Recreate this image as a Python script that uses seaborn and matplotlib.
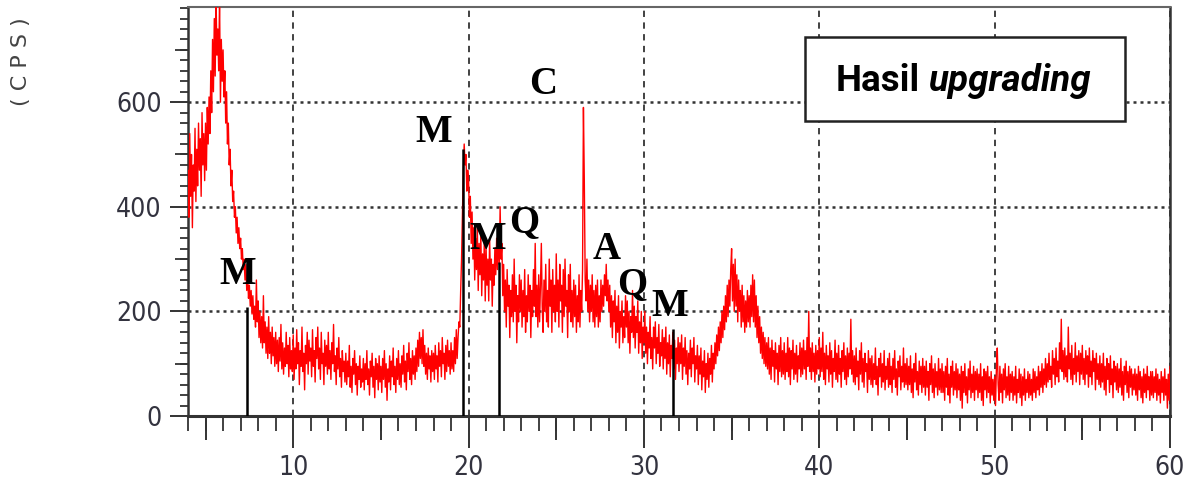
import numpy as np
import pandas as pd
import matplotlib
matplotlib.use("Agg")
import matplotlib.pyplot as plt
from matplotlib import font_manager as fm
from matplotlib.ticker import MultipleLocator
from matplotlib.patches import Rectangle
import seaborn as sns

# ---------------- data ----------------
# diffractogram sampled every 0.05 deg 2-theta, one row per degree
two_theta_start = 4.0
two_theta_step = 0.05

counts_04_10 = [
    470, 380, 540, 420, 500, 360, 480, 430, 550, 410, 510, 440, 560, 470, 530, 420, 580, 480, 540, 450,
    560, 470, 590, 520, 610, 540, 660, 580, 720, 620, 760, 650, 800, 690, 740, 660, 800, 600, 720, 640,
    700, 610, 660, 560, 620, 520, 560, 480, 510, 440, 470, 410, 430, 380, 400, 350, 380, 330, 360, 320,
    340, 300, 320, 280, 300, 260, 290, 240, 270, 225, 250, 210, 240, 195, 230, 185, 210, 170, 260, 180,
    220, 150, 200, 140, 190, 130, 230, 140, 180, 120, 170, 110, 190, 120, 160, 100, 170, 115, 150, 95,
    160, 100, 145, 85, 150, 105, 175, 90, 140, 80, 130, 95, 160, 100, 135, 75, 150, 90, 125, 85]
counts_10_20 = [
    155, 70, 130, 90, 165, 100, 140, 60, 125, 95, 170, 85, 120, 50, 135, 100, 160, 80, 145, 105,
    130, 75, 165, 95, 125, 65, 150, 110, 170, 90, 130, 70, 160, 100, 120, 60, 145, 95, 135, 80,
    160, 90, 125, 70, 140, 100, 175, 85, 115, 60, 130, 90, 150, 75, 110, 55, 125, 85, 105, 65,
    120, 60, 105, 75, 135, 55, 95, 45, 110, 80, 125, 60, 100, 40, 95, 70, 115, 55, 90, 65,
    110, 50, 100, 70, 125, 60, 90, 40, 105, 75, 120, 55, 95, 35, 110, 70, 100, 50, 115, 65,
    95, 45, 110, 70, 125, 55, 100, 30, 90, 65, 115, 50, 105, 75, 130, 60, 95, 45, 110, 70,
    125, 60, 100, 55, 115, 80, 135, 65, 105, 50, 120, 85, 140, 70, 110, 60, 125, 80, 115, 70,
    130, 85, 145, 95, 160, 110, 150, 100, 165, 95, 135, 80, 120, 70, 130, 90, 115, 65, 125, 85,
    120, 70, 135, 90, 115, 65, 140, 95, 125, 75, 150, 100, 120, 70, 135, 85, 145, 95, 125, 80,
    140, 90, 125, 85, 150, 100, 165, 110, 150, 180, 170, 240, 300, 380, 470, 520, 480, 500, 430, 470]
counts_20_30 = [
    450, 380, 420, 330, 390, 300, 360, 260, 340, 280, 360, 240, 330, 270, 350, 230, 310, 260, 340, 220,
    320, 250, 300, 220, 340, 260, 300, 210, 290, 250, 320, 270, 340, 280, 360, 290, 400, 300, 330, 230,
    290, 200, 260, 170, 280, 210, 250, 150, 240, 190, 270, 180, 300, 200, 250, 140, 230, 180, 270, 200,
    260, 170, 240, 190, 280, 160, 230, 180, 270, 200, 250, 150, 240, 190, 280, 210, 330, 190, 250, 170,
    270, 180, 250, 330, 210, 160, 260, 200, 290, 180, 240, 170, 300, 210, 260, 160, 280, 200, 250, 180,
    310, 200, 260, 170, 290, 220, 250, 160, 280, 190, 300, 210, 240, 150, 270, 200, 290, 180, 240, 170,
    260, 190, 250, 160, 230, 180, 270, 170, 240, 200, 280, 590, 450, 260, 220, 300, 200, 260, 180, 250,
    200, 270, 180, 240, 170, 250, 190, 260, 170, 230, 180, 260, 200, 250, 210, 270, 230, 290, 220, 260,
    200, 250, 170, 230, 150, 220, 180, 240, 140, 210, 160, 230, 130, 200, 170, 220, 140, 190, 150, 230,
    170, 220, 140, 200, 120, 190, 160, 240, 150, 210, 130, 190, 160, 220, 120, 180, 140, 200, 110, 170]
counts_30_40 = [
    140, 200, 120, 170, 100, 160, 130, 190, 110, 150, 90, 170, 130, 180, 100, 150, 120, 175, 95, 140,
    115, 165, 90, 150, 110, 170, 80, 140, 100, 155, 75, 135, 110, 160, 90, 145, 70, 130, 100, 150,
    85, 140, 100, 155, 70, 130, 95, 150, 80, 125, 60, 120, 90, 145, 75, 130, 100, 150, 65, 115,
    90, 135, 60, 115, 80, 130, 50, 105, 75, 125, 45, 100, 70, 120, 55, 110, 80, 135, 65, 120,
    90, 140, 100, 155, 115, 170, 125, 180, 140, 200, 150, 210, 165, 230, 180, 250, 190, 260, 210, 280,
    320, 220, 290, 200, 300, 210, 270, 180, 260, 200, 240, 170, 250, 180, 230, 160, 220, 170, 240, 180,
    230, 170, 250, 190, 270, 180, 260, 170, 230, 150, 210, 140, 190, 120, 170, 110, 160, 100, 150, 95,
    140, 90, 150, 80, 130, 70, 145, 95, 125, 65, 140, 90, 120, 60, 135, 85, 150, 75, 125, 80,
    140, 70, 120, 85, 150, 75, 130, 60, 125, 90, 145, 70, 120, 80, 135, 65, 115, 90, 140, 75,
    130, 80, 145, 90, 125, 70, 150, 95, 200, 85, 130, 70, 140, 85, 120, 65, 135, 80, 125, 90]
counts_40_50 = [
    150, 75, 130, 85, 160, 70, 120, 60, 135, 90, 115, 65, 140, 80, 125, 55, 110, 85, 145, 70,
    120, 65, 135, 80, 110, 55, 125, 85, 140, 70, 115, 60, 130, 75, 120, 90, 185, 80, 125, 65,
    115, 60, 130, 75, 105, 50, 125, 80, 140, 65, 110, 55, 120, 85, 100, 45, 125, 70, 110, 60,
    115, 55, 100, 70, 130, 60, 95, 40, 110, 75, 120, 55, 100, 65, 125, 50, 95, 70, 110, 55,
    120, 60, 95, 45, 110, 70, 125, 55, 90, 40, 105, 75, 115, 50, 95, 65, 130, 55, 100, 60,
    110, 50, 95, 60, 115, 45, 90, 35, 100, 65, 120, 50, 85, 40, 105, 60, 95, 45, 110, 55,
    95, 40, 105, 55, 85, 30, 100, 60, 115, 45, 90, 35, 100, 55, 85, 40, 110, 50, 90, 45,
    100, 45, 85, 30, 95, 55, 110, 40, 80, 25, 95, 55, 105, 40, 85, 50, 100, 35, 90, 50,
    80, 30, 95, 15, 85, 45, 100, 40, 75, 25, 90, 50, 105, 35, 80, 45, 95, 30, 85, 50,
    90, 35, 80, 45, 100, 30, 75, 20, 90, 50, 85, 35, 95, 45, 75, 25, 85, 40, 70, 30]
counts_50_60 = [
    75, 20, 90, 130, 60, 30, 95, 45, 80, 25, 90, 50, 100, 35, 75, 40, 95, 30, 80, 45,
    85, 30, 75, 40, 95, 25, 70, 45, 90, 35, 80, 20, 75, 40, 90, 30, 70, 45, 85, 35,
    80, 40, 70, 30, 90, 45, 85, 35, 75, 50, 95, 40, 85, 55, 100, 45, 90, 60, 110, 55,
    100, 65, 120, 70, 95, 55, 125, 80, 110, 60, 130, 75, 105, 65, 140, 90, 185, 85, 125, 70,
    130, 75, 115, 65, 170, 90, 120, 70, 135, 60, 110, 80, 140, 65, 115, 85, 125, 60, 120, 80,
    135, 70, 110, 60, 125, 80, 115, 55, 130, 75, 105, 60, 125, 85, 110, 50, 120, 70, 100, 60,
    115, 55, 100, 65, 120, 50, 95, 40, 110, 70, 100, 45, 115, 60, 90, 35, 105, 65, 95, 50,
    100, 45, 90, 55, 110, 40, 85, 30, 95, 60, 105, 45, 85, 35, 95, 55, 90, 40, 80, 50,
    90, 40, 80, 30, 95, 50, 85, 35, 75, 25, 90, 45, 80, 35, 95, 50, 75, 30, 85, 40,
    85, 35, 75, 45, 90, 30, 80, 40, 70, 25, 85, 45, 75, 30, 90, 40, 70, 15, 80, 30,
    95]

# reference stick pattern (phase markers)
stick_positions = [7.36, 19.67, 21.75, 31.64]
stick_heights = [209, 511, 295, 166]

# phase labels
label_text = ["M", "M", "M", "Q", "C", "A", "Q", "M"]
label_x = [6.85, 18.02, 21.09, 23.2, 24.23, 27.87, 29.36, 31.46]
label_y = [270, 543, 337, 369, 633, 318, 251, 209]

x_tick_values = [10, 20, 30, 40, 50, 60]
y_tick_values = [0, 200, 400, 600]

# ---------------- build frame ----------------
counts = np.array(counts_04_10 + counts_10_20 + counts_20_30 +
                  counts_30_40 + counts_40_50 + counts_50_60, dtype=float)
two_theta = two_theta_start + two_theta_step * np.arange(len(counts))
df = pd.DataFrame({"two_theta": two_theta, "cps": counts})

# ---------------- narrow font for tick labels ----------------
def _is_regular(f):
    return f.style == "normal" and f.weight in (400, "normal", "regular", "book", "Book", "Regular")

narrow_file, narrow_size = None, 19
for f in fm.fontManager.ttflist:
    if f.name == "Liberation Sans Narrow" and _is_regular(f):
        narrow_file, narrow_size = f.fname, 21
        break
if narrow_file is None:
    for want in ("condensed", "semi-condensed"):
        for f in fm.fontManager.ttflist:
            if (f.stretch == want and _is_regular(f)
                    and f.name in ("DejaVu Sans", "Noto Sans", "Liberation Sans", "Open Sans", "Roboto")):
                narrow_file = f.fname
                break
        if narrow_file:
            break
if narrow_file:
    tick_prop = fm.FontProperties(fname=narrow_file, size=narrow_size)
else:
    tick_prop = fm.FontProperties(family="DejaVu Sans", size=16)

# ---------------- figure ----------------
sns.set_style("white")
W, H = 1192, 490
fig = plt.figure(figsize=(W / 100, H / 100), dpi=100)
ax = fig.add_axes([188 / W, 1 - 416 / H, (1170 - 188) / W, (416 - 7) / H])

sns.lineplot(data=df, x="two_theta", y="cps", ax=ax, color="#ff0000",
             linewidth=1.0, estimator=None, sort=False, zorder=3)

ax.vlines(stick_positions, 0, stick_heights, colors="black", linewidth=1.8, zorder=4)

for t, lx, ly in zip(label_text, label_x, label_y):
    ax.text(lx, ly, t, ha="center", va="center", fontsize=28, fontweight="bold",
            family=["Liberation Serif", "DejaVu Serif"], color="black", zorder=5)

ax.set_xlim(4, 60)
ax.set_ylim(0, 782)
ax.set_xlabel("")
ax.set_ylabel("")

tick_color = "#33333f"
ax.set_xticks(x_tick_values, labels=[str(v) for v in x_tick_values],
              fontproperties=tick_prop, color=tick_color)
ax.set_yticks(y_tick_values, labels=[str(v) for v in y_tick_values],
              fontproperties=tick_prop, color=tick_color)
ax.xaxis.set_minor_locator(MultipleLocator(1))
ax.yaxis.set_minor_locator(MultipleLocator(20))
ax.tick_params(axis="x", which="major", bottom=True, direction="out", length=23, width=1.4,
               color="#333333", pad=5)
ax.tick_params(axis="x", which="minor", bottom=True, direction="out", length=11, width=1.3,
               color="#333333")
ax.tick_params(axis="y", which="major", left=True, direction="out", length=13, width=1.4,
               color="#333333", pad=6)
ax.tick_params(axis="y", which="minor", left=True, direction="out", length=6, width=1.3,
               color="#333333")

# medium ticks
secx = ax.secondary_xaxis("bottom")
secx.set_xticks([5, 15, 25, 35, 45, 55])
secx.tick_params(bottom=True, direction="out", length=17, width=1.4, color="#333333", labelbottom=False)
secx.spines["bottom"].set_visible(False)
secy = ax.secondary_yaxis("left")
secy.set_yticks([100, 300, 500, 700])
secy.tick_params(left=True, direction="out", length=9.5, width=1.3, color="#333333", labelleft=False)
secy.spines["left"].set_visible(False)

# grid
ax.yaxis.grid(True, which="major", linestyle=(0, (1.2, 1.6)), linewidth=1.8, color="#333333", zorder=1)
ax.xaxis.grid(True, which="major", linestyle=(0, (3.5, 3)), linewidth=1.3, color="#333333", zorder=1)
ax.set_axisbelow(True)

for side in ["left", "bottom", "right"]:
    ax.spines[side].set_visible(True)
    ax.spines[side].set_color("#333333")
    ax.spines[side].set_linewidth(1.8)
ax.spines["bottom"].set_linewidth(2.2)
ax.spines["top"].set_visible(True)
ax.spines["top"].set_color("#666666")
ax.spines["top"].set_linewidth(1.5)

# title box
box = Rectangle((0.628, 0.721), 0.326, 0.206, transform=ax.transAxes,
                facecolor="white", edgecolor="#222222", linewidth=1.8, zorder=6)
ax.add_patch(box)
t1 = ax.text((836 - 188) / 982, (416 - 91) / 409, "Hasil", transform=ax.transAxes,
             ha="left", va="baseline", fontsize=26.5, fontweight="bold",
             family=["Roboto", "DejaVu Sans"], color="black", zorder=7)
ax.annotate("upgrading", xy=(1, 0), xycoords=t1, xytext=(6, 0), textcoords="offset points",
            ha="left", va="bottom", fontsize=26.5, fontweight="bold", fontstyle="italic",
            family=["Roboto", "DejaVu Sans"], color="black", zorder=7)

fig.text(21 / W, 1 - 62 / H, "( C P S )", rotation=90, ha="center", va="center",
         fontsize=16, color="#444444", family=["DejaVu Sans"])

fig.savefig("out.png", dpi=100)
